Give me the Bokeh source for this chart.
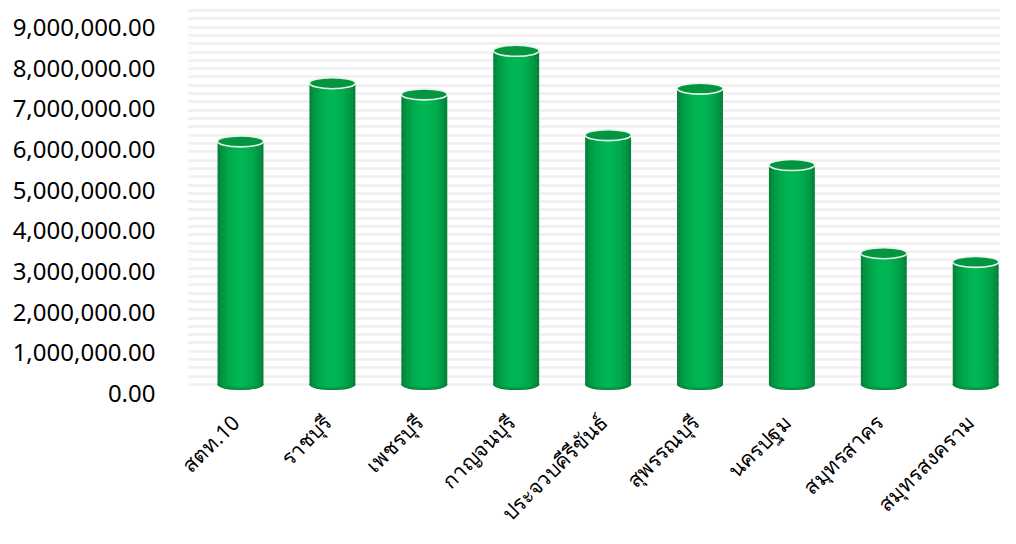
import math
from bokeh.plotting import figure
from bokeh.models import (Range1d, FixedTicker, SingleIntervalTicker, NumeralTickFormatter, Grid)
from bokeh.core.properties import value
from bokeh.embed import file_html
from bokeh.resources import INLINE

# ---- data ----
provinces = ["สตท.10", "ราชบุรี", "เพชรบุรี", "กาญจนบุรี", "ประจวบคีรีขันธ์",
             "สุพรรณบุรี", "นครปฐม", "สมุทรสาคร", "สมุทรสงคราม"]
amounts = [5850000, 7250000, 6980000, 8030000, 6000000, 7120000, 5280000, 3160000, 2950000]
y_ticks = [0, 1000000, 2000000, 3000000, 4000000, 5000000, 6000000, 7000000, 8000000, 9000000]

xs = list(range(len(provinces)))

# ---- main chart ----
p = figure(width=1000, height=410, output_backend="svg", toolbar_location=None,
           x_range=Range1d(-0.566, 8.270), y_range=Range1d(-49000, 9664000),
           x_axis_location=None,
           min_border_left=188, min_border_right=0, min_border_top=0, min_border_bottom=15)
p.outline_line_color = None
p.background_fill_color = "white"
p.border_fill_color = "white"
p.extra_y_ranges = {"bars": Range1d(-264700, 9240000)}

p.xgrid.visible = False
p.ygrid.visible = False
g = Grid(dimension=1, ticker=SingleIntervalTicker(interval=200000), y_range_name="bars",
         grid_line_color="#efefef", grid_line_width=2.5, bounds=(0, 9000000))
p.add_layout(g)

ya = p.yaxis[0]
ya.ticker = FixedTicker(ticks=y_ticks)
ya.formatter = NumeralTickFormatter(format="0,0.00")
ya.axis_line_color = None
ya.major_tick_line_color = None
ya.minor_tick_line_color = None
ya.major_tick_out = 0
ya.major_tick_in = 0
ya.major_label_standoff = 33
ya.major_label_text_font = "Noto Sans"
ya.major_label_text_font_size = "24px"
ya.major_label_text_color = "black"

bw = 0.50
zeros = [0] * len(xs)
p.ellipse(x=xs, y=zeros, width=bw, height=11, height_units="screen",
          fill_color="#02a24a", line_color=None, y_range_name="bars")
shades = [("#07823b", 1.0), ("#02913f", 0.9), ("#019c45", 0.78), ("#00a64a", 0.64),
          ("#00ad4e", 0.5), ("#00b252", 0.34), ("#00b554", 0.18)]
for col, f in shades:
    p.vbar(x=xs, top=amounts, bottom=0, width=bw * f, fill_color=col, line_color=None,
           y_range_name="bars")
    p.ellipse(x=xs, y=zeros, width=bw * f, height=11 * max(f, 0.3), height_units="screen",
              fill_color=col, line_color=None, y_range_name="bars")
p.ellipse(x=xs, y=amounts, width=bw, height=11, height_units="screen",
          fill_color="#03953f", line_color="#e8f5ec", line_width=1.6, y_range_name="bars")

# ---- category labels strip (same x scale, full width) ----
q = figure(width=1000, height=118, output_backend="svg", toolbar_location=None,
           x_range=Range1d(-2.611, 8.270), y_range=Range1d(0, 1),
           x_axis_location=None, y_axis_location=None,
           min_border_left=0, min_border_right=0, min_border_top=0, min_border_bottom=0)
q.outline_line_color = None
q.grid.visible = False
q.border_fill_color = "white"
q.text(x=xs, y=[1] * len(xs), text=provinces, angle=math.pi / 4,
       text_align="right", text_baseline="middle", x_offset=-5, y_offset=8,
       text_font=value("Noto Sans"), text_font_size="21px", text_color="black")

open("out.html", "w").write(file_html([p, q], INLINE))
